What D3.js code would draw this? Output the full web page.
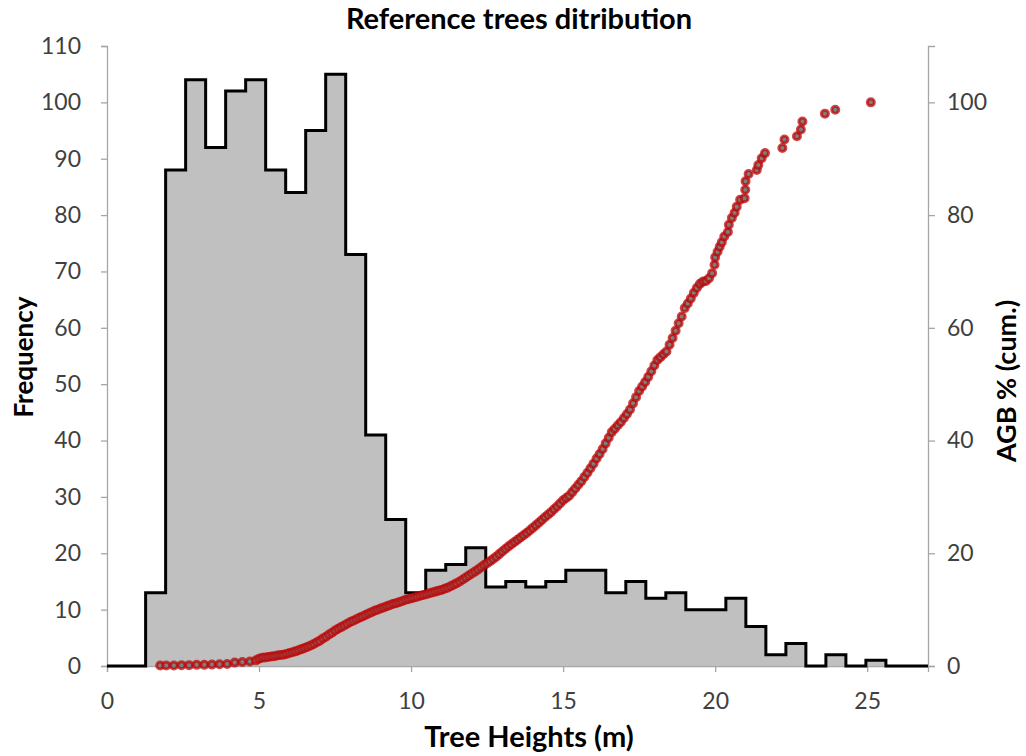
<!DOCTYPE html>
<html>
<head>
<meta charset="utf-8">
<script src="https://cdn.jsdelivr.net/npm/d3@7/dist/d3.min.js"></script>
<style>
  html, body { margin: 0; padding: 0; background: #ffffff; }
  svg { display: block; }
  text { font-family: Lato, "Open Sans", sans-serif; }
</style>
</head>
<body>
<svg id="chart" width="1026" height="756"></svg>
<script>
// Histogram of tree heights (m): bins start at binStart and are binWidth wide
const binStart = 1.27;
const binWidth = 0.658;
const binCounts = [13, 88, 104, 92, 102, 104, 88, 84, 95, 105, 73, 41, 26, 13, 17, 18, 21,
  14, 15, 14, 15, 17, 17, 13, 15, 12, 13, 10, 10, 12, 7, 2, 4, 0, 2, 0, 1];

// Cumulative above-ground biomass (%) against tree height (m)
const agbHeights = [1.75, 1.95, 2.2, 2.45, 2.7, 2.95, 3.2, 3.45, 3.7, 3.95, 4.2, 4.45, 4.7,
  4.9, 5.0, 5.1, 5.2, 5.3, 5.4, 5.5, 5.6, 5.7, 5.8, 5.9, 6.0, 6.1, 6.2, 6.3, 6.4, 6.5, 6.6, 6.7,
  6.8, 6.9, 7.0, 7.1, 7.2, 7.3, 7.4, 7.5, 7.6, 7.7, 7.8, 7.9, 8.0, 8.1, 8.2, 8.3, 8.4, 8.5, 8.6,
  8.7, 8.8, 8.9, 9.0, 9.1, 9.2, 9.3, 9.4, 9.5, 9.6, 9.7, 9.8, 9.9, 10.0, 10.1, 10.2, 10.3, 10.4,
  10.5, 10.6, 10.7, 10.8, 10.9, 11.0, 11.1, 11.2, 11.3, 11.4, 11.5, 11.6, 11.7, 11.8, 11.9, 12.0,
  12.1, 12.2, 12.3, 12.4, 12.5, 12.6, 12.7, 12.8, 12.9, 13.0, 13.1, 13.2, 13.3, 13.4, 13.5, 13.6,
  13.7, 13.8, 13.9, 14.0, 14.1, 14.2, 14.3, 14.4, 14.5, 14.6, 14.7, 14.8, 14.9, 15.0, 15.1, 15.2,
  15.3, 15.4, 15.5, 15.6, 15.7, 15.8, 15.9, 16.0, 16.1, 16.2, 16.3, 16.4, 16.5, 16.6, 16.7, 16.8,
  16.9, 17.0, 17.1, 17.2, 17.3, 17.4, 17.5, 17.6, 17.7, 17.8, 17.9, 18.0, 18.1, 18.2, 18.3, 18.4,
  18.5, 18.6, 18.7, 18.8, 18.9, 19.0, 19.1, 19.2, 19.3, 19.4, 19.5, 19.6, 19.7, 19.8, 19.9,
  19.98, 20.0, 20.08, 20.15, 20.22, 20.3, 20.42, 20.45, 20.55, 20.64, 20.71, 20.82, 20.97,
  20.99, 21.0, 21.1, 21.37, 21.42, 21.53, 21.64, 22.21, 22.28, 22.69, 22.82, 22.87, 23.61,
  23.95, 25.12];
const agbPercent = [0.1, 0.1, 0.1, 0.15, 0.15, 0.2, 0.2, 0.25, 0.3, 0.35, 0.6, 0.7, 0.8,
  1.0, 1.3, 1.45, 1.5, 1.6, 1.7, 1.75, 1.85, 1.95, 2.0, 2.15, 2.3, 2.45, 2.6, 2.8, 3.0, 3.2, 3.4, 3.65,
  3.9, 4.2, 4.5, 4.9, 5.2, 5.6, 5.9, 6.3, 6.6, 6.9, 7.2, 7.5, 7.8, 8.05, 8.3, 8.55, 8.8, 9.05, 9.3,
  9.55, 9.8, 10.0, 10.2, 10.4, 10.6, 10.8, 11.0, 11.15, 11.3, 11.5, 11.7, 11.85, 12.0, 12.15, 12.3, 12.45, 12.6,
  12.75, 12.9, 13.05, 13.2, 13.35, 13.5, 13.7, 13.9, 14.15, 14.4, 14.7, 15.0, 15.35, 15.7, 16.05, 16.4,
  16.75, 17.1, 17.5, 17.9, 18.25, 18.6, 19.0, 19.4, 19.85, 20.3, 20.75, 21.2, 21.6, 22.0, 22.4, 22.8,
  23.2, 23.6, 24.05, 24.5, 24.95, 25.4, 25.9, 26.4, 26.85, 27.3, 27.8, 28.3, 28.85, 29.4, 29.8, 30.2,
  30.85, 31.5, 32.15, 32.8, 33.55, 34.3, 35.1, 35.9, 36.8, 37.6, 38.5, 39.5, 40.5, 41.5, 42.1, 42.7,
  43.3, 44.0, 44.7, 45.5, 46.6, 47.7, 48.8, 49.6, 50.4, 51.3, 52.3, 53.3, 54.3, 54.8, 55.3, 55.8,
  57.0, 58.2, 59.5, 60.8, 62.0, 63.5, 64.3, 65.2, 66.2, 67.1, 67.8, 68.2, 68.3, 68.8, 69.7,
  71.2, 72.5, 73.5, 74.4, 75.2, 76.2, 77.0, 78.3, 79.5, 80.4, 81.5, 82.7, 83.0,
  84.5, 86.0, 87.3, 88.0, 88.9, 90.1, 91.0, 91.9, 93.4, 94.0, 95.2, 96.6, 98.0,
  98.7, 100];

// Axis ticks
const xTicks = [0, 5, 10, 15, 20, 25];
const freqTicks = [0, 10, 20, 30, 40, 50, 60, 70, 80, 90, 100, 110];
const agbTicks = [0, 20, 40, 60, 80, 100];

const chartTitle = "Reference trees ditribution";
const xTitle = "Tree Heights (m)";
const yLeftTitle = "Frequency";
const yRightTitle = "AGB % (cum.)";

const svg = d3.select("#chart");
const plot = { left: 107, right: 928, top: 46, bottom: 666 };

const x = d3.scaleLinear().domain([0, 27]).range([plot.left, plot.right]);
const yFreq = d3.scaleLinear().domain([0, 110]).range([plot.bottom, plot.top]);
const yAgb = d3.scaleLinear().domain([0, 110]).range([plot.bottom, plot.top]);

const axisGrey = "#a6a6a6";
const labelColor = "#404040";

// Axes
const gLeft = svg.append("g").attr("transform", `translate(${plot.left},0)`)
  .call(d3.axisLeft(yFreq).tickValues(freqTicks).tickSize(6).tickPadding(20));
const gRight = svg.append("g").attr("transform", `translate(${plot.right},0)`)
  .call(d3.axisRight(yAgb).tickValues(agbTicks).tickSize(7).tickPadding(12));
const gBottom = svg.append("g").attr("transform", `translate(0,${plot.bottom})`)
  .call(d3.axisBottom(x).tickValues(xTicks).tickSize(6).tickPadding(21));

[gLeft, gRight, gBottom].forEach(g => {
  g.selectAll(".domain").attr("stroke", axisGrey).attr("stroke-width", 1.3);
  g.selectAll(".tick line").attr("stroke", axisGrey).attr("stroke-width", 1.3);
  g.selectAll(".tick text").attr("fill", labelColor)
    .style("font-family", "Lato, sans-serif").style("font-size", "23px");
});

// Histogram as a stepped outline with grey fill
const edges = binCounts.map((_, i) => binStart + i * binWidth);
const lastEdge = binStart + binCounts.length * binWidth;
const stepData = [{ h: 0, n: 0 }]
  .concat(binCounts.map((n, i) => ({ h: edges[i], n })))
  .concat([{ h: lastEdge, n: 0 }, { h: 27, n: 0 }]);

svg.append("path")
  .datum(stepData)
  .attr("fill", "#c0c0c0")
  .attr("d", d3.area().curve(d3.curveStepAfter)
    .x(d => x(d.h)).y0(yFreq(0)).y1(d => yFreq(d.n)));

svg.append("path")
  .datum(stepData)
  .attr("fill", "none")
  .attr("stroke", "#000000")
  .attr("stroke-width", 3)
  .attr("stroke-linejoin", "miter")
  .attr("d", d3.line().curve(d3.curveStepAfter)
    .x(d => x(d.h)).y(d => yFreq(d.n)));

// Cumulative AGB markers
const agbPoints = agbHeights.map((h, i) => ({ h, p: agbPercent[i] }));
svg.append("g")
  .selectAll("circle")
  .data(agbPoints)
  .join("circle")
  .attr("cx", d => x(d.h))
  .attr("cy", d => yAgb(d.p))
  .attr("r", 3.5)
  .attr("fill", "#7f7f7f")
  .attr("stroke", "#c00000")
  .attr("stroke-opacity", 0.72)
  .attr("stroke-width", 3);

// Titles
svg.append("text")
  .attr("x", 519).attr("y", 29)
  .attr("text-anchor", "middle")
  .style("font-size", "29px").style("font-weight", "bold").attr("fill", "#000")
  .text(chartTitle);

svg.append("text")
  .attr("x", 529).attr("y", 747)
  .attr("text-anchor", "middle")
  .style("font-size", "29px").style("font-weight", "bold").attr("fill", "#000")
  .text(xTitle);

svg.append("text")
  .attr("transform", "translate(33,357) rotate(-90)")
  .attr("text-anchor", "middle")
  .style("font-size", "26px").style("font-weight", "bold").attr("fill", "#000")
  .text(yLeftTitle);

svg.append("text")
  .attr("transform", "translate(1016,381) rotate(-90)")
  .attr("text-anchor", "middle")
  .style("font-size", "27px").style("font-weight", "bold").attr("fill", "#000")
  .text(yRightTitle);
</script>
</body>
</html>
